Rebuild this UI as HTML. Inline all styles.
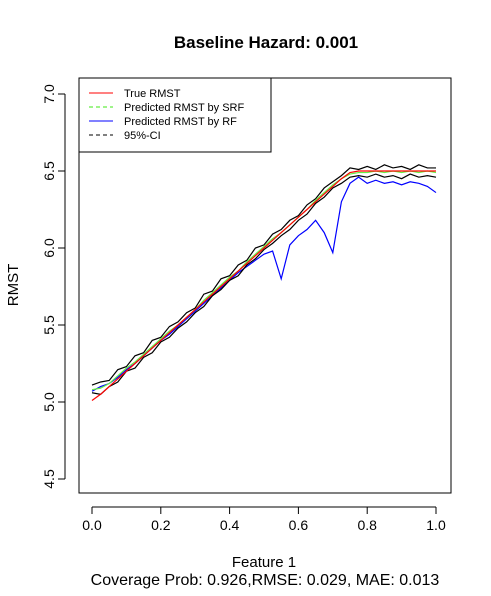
<!DOCTYPE html>
<html><head><meta charset="utf-8"><style>
body{margin:0;background:#fff}
svg text{font-family:"Liberation Sans",Arial,sans-serif;fill:#000}
</style></head><body>
<svg width="491" height="591">
<text x="266" y="48" text-anchor="middle" font-size="17" font-weight="bold">Baseline Hazard: 0.001</text>
<rect x="79" y="78" width="372" height="415" fill="none" stroke="#000"/>
<g id="axes"></g>
<g id="series"></g>
<text x="18" y="285" font-size="15" text-anchor="middle" transform="rotate(-90 18 285)">RMST</text>
<text x="264" y="567" font-size="15" text-anchor="middle">Feature 1</text>
<text x="265" y="585" font-size="16" text-anchor="middle">Coverage Prob: 0.926,RMSE: 0.029, MAE: 0.013</text>
<g>
<rect x="79" y="78" width="192" height="74" fill="#fff" stroke="#000"/>
<line x1="89" y1="93" x2="113" y2="93" stroke="red"/><text x="124" y="97" font-size="11">True RMST</text>
<line x1="89" y1="107" x2="113" y2="107" stroke="#66ee44" stroke-dasharray="4,3" stroke-width="1.3"/><text x="124" y="111" font-size="11">Predicted RMST by SRF</text>
<line x1="89" y1="121" x2="113" y2="121" stroke="blue"/><text x="124" y="125" font-size="11">Predicted RMST by RF</text>
<line x1="89" y1="135" x2="113" y2="135" stroke="#000" stroke-dasharray="4,3"/><text x="124" y="139" font-size="11">95%-CI</text>
</g>
</svg>
<script>
const xs=[0,0.025,0.05,0.075,0.1,0.125,0.15,0.175,0.2,0.225,0.25,0.275,0.3,0.325,0.35,0.375,0.4,0.425,0.45,0.475,0.5,0.525,0.55,0.575,0.6,0.625,0.65,0.675,0.7,0.725,0.75,0.775,0.8,0.825,0.85,0.875,0.9,0.925,0.95,0.975,1.0];
const trueVals=[5.01,5.05,5.10,5.15,5.20,5.25,5.30,5.35,5.40,5.45,5.50,5.55,5.60,5.65,5.70,5.75,5.80,5.85,5.90,5.95,6.00,6.05,6.10,6.15,6.20,6.25,6.30,6.35,6.40,6.45,6.49,6.50,6.50,6.50,6.50,6.50,6.50,6.50,6.50,6.50,6.50];
const srfVals=[5.08,5.09,5.12,5.17,5.22,5.26,5.31,5.36,5.41,5.46,5.50,5.55,5.60,5.66,5.71,5.76,5.81,5.85,5.91,5.96,6.01,6.06,6.10,6.15,6.20,6.25,6.31,6.36,6.41,6.45,6.48,6.49,6.49,6.50,6.49,6.50,6.49,6.50,6.49,6.50,6.49];
const upperVals=[5.11,5.13,5.14,5.21,5.23,5.30,5.32,5.40,5.42,5.49,5.52,5.58,5.61,5.70,5.72,5.80,5.82,5.89,5.92,6.00,6.02,6.09,6.12,6.18,6.21,6.28,6.32,6.39,6.43,6.47,6.52,6.51,6.53,6.51,6.54,6.52,6.53,6.51,6.54,6.52,6.52];
const lowerVals=[5.06,5.05,5.10,5.13,5.20,5.22,5.29,5.32,5.39,5.42,5.48,5.52,5.58,5.62,5.69,5.73,5.79,5.82,5.89,5.93,5.99,6.03,6.08,6.12,6.18,6.22,6.29,6.33,6.39,6.42,6.46,6.47,6.46,6.48,6.46,6.47,6.45,6.48,6.46,6.47,6.46];
const rfVals=[5.07,5.10,5.12,5.16,5.21,5.25,5.30,5.35,5.40,5.44,5.49,5.54,5.59,5.64,5.69,5.74,5.79,5.84,5.88,5.92,5.96,5.98,5.80,6.02,6.08,6.12,6.18,6.10,5.97,6.30,6.42,6.46,6.42,6.44,6.42,6.43,6.41,6.43,6.42,6.40,6.36];
const xTicks=[0,0.2,0.4,0.6,0.8,1.0];
const xTickLabels=["0.0","0.2","0.4","0.6","0.8","1.0"];
const yTicks=[4.5,5.0,5.5,6.0,6.5,7.0];
const yTickLabels=["4.5","5.0","5.5","6.0","6.5","7.0"];
const NS="http://www.w3.org/2000/svg";
const X=v=>92+v*344;
const Y=v=>402-(v-5)*154;
const axes=document.getElementById('axes');
function mk(tag,attrs,parent){const e=document.createElementNS(NS,tag);for(const k in attrs)e.setAttribute(k,attrs[k]);parent.appendChild(e);return e;}
mk('line',{x1:X(0),x2:X(1),y1:507,y2:507,stroke:'#000'},axes);
xTicks.forEach((t,i)=>{
 const l=mk('line',{x1:X(t),x2:X(t),y1:507,y2:514,stroke:'#000'},axes);
 
 
 const tx=mk('text',{x:X(t),y:530,'text-anchor':'middle','font-size':'14'},axes);
 tx.textContent=xTickLabels[i];
 
 
});
mk('line',{x1:65,x2:65,y1:Y(4.5),y2:Y(7),stroke:'#000'},axes);
yTicks.forEach((t,i)=>{
 const l=mk('line',{x1:58,x2:65,y1:Y(t),y2:Y(t),stroke:'#000'},axes);
 
 
 const tx=mk('text',{x:54,y:Y(t),'text-anchor':'middle','font-size':'14',transform:`rotate(-90 54 ${Y(t)})`},axes);
 tx.textContent=yTickLabels[i];
 
 
});
const sg=document.getElementById('series');
function line(vals,color,name,dash){
 const p=mk('polyline',{points:vals.map((v,i)=>X(xs[i])+','+Y(v)).join(' '),fill:'none',stroke:color,'stroke-width':'1.2'},sg);
 if(dash)p.setAttribute('stroke-dasharray',dash);
 
 
}
line(rfVals,'blue','rf-line');
line(upperVals,'#000','ci-upper-line');
line(lowerVals,'#000','ci-lower-line');
line(srfVals,'#66ee44','srf-line');
line(trueVals,'red','true-rmst-line');
</script>
</body></html>
